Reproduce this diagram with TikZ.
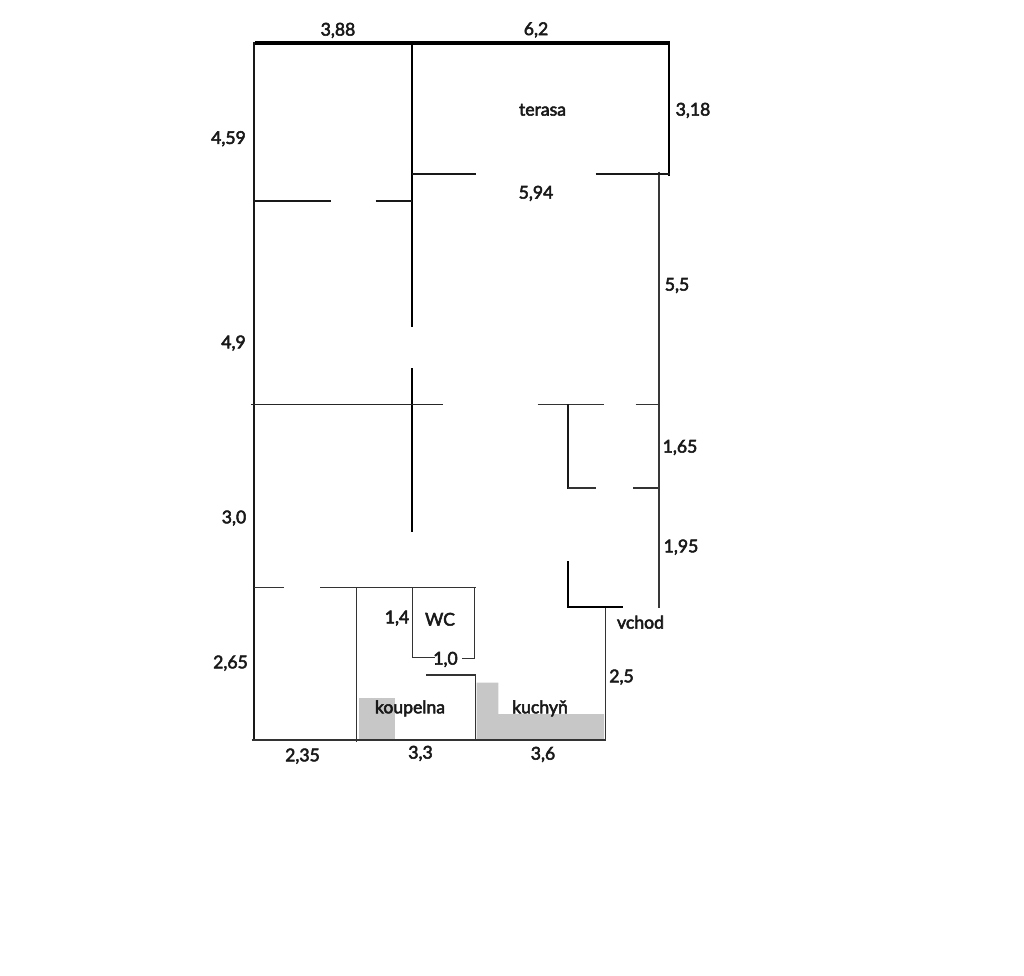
\documentclass[tikz,border=0pt]{standalone}
\usepackage{fontspec}
\setmainfont{Lato}[RawFeature={embolden=3}]
\tikzset{
	wall/.style={line width=1.7pt, color=black!90},
	thinwall/.style={line width=1.2pt, color=black!80},
	lbl/.style={anchor=base, inner sep=0pt, yshift=-0.6pt, font=\fontsize{17.6pt}{19pt}\selectfont, color=black!90},
	tile/.style={fill=black!22, draw=none}
}
\begin{document}
\begin{tikzpicture}[x=1pt, y=-1pt]
	\useasboundingbox (0, 0) rectangle (1024, 975);
	
	%%%%% TILES %%%%%
	\fill[tile] (358.7, 698.3) rectangle (395, 739);
	\fill[tile] (476.5, 682.7) -- (498.3, 682.7) -- (498.3, 714) -- (604, 714) -- (604, 739) -- (476.5, 739) -- cycle;
	
	%%%%% OUTER WALLS %%%%%
	\draw[line width=4pt] (255, 42.7) -- (669.5, 42.7);
	\draw[wall] (254.3, 42) -- (254.3, 741);
	\draw[line width=2pt] (669, 42) -- (669, 175.5);
	\draw[line width=1.7pt, color=black!78] (658.7, 171.7) -- (658.7, 607.7);
	\draw[thinwall] (251.7, 740) -- (605.5, 740);
	\draw[thinwall] (605.3, 607) -- (605.3, 741);
	
	%%%%% MIDDLE WALL %%%%%
	\draw[line width=1.9pt] (412, 42) -- (412, 326.7);
	\draw[line width=1.9pt] (412, 368) -- (412, 531.7);
	
	%%%%% TOP ROOMS %%%%%
	\draw[line width=2pt, color=black!90] (412, 174.2) -- (476, 174.2);
	\draw[line width=2pt, color=black!90] (595.7, 174.2) -- (670, 174.2);
	\draw[wall] (254, 200.7) -- (331, 200.7);
	\draw[wall] (375.7, 200.7) -- (412, 200.7);
	
	\draw[line width=1pt, color=black!85] (251, 404.3) -- (443, 404.3);
	\draw[thinwall] (537.7, 404.3) -- (603.7, 404.3);
	\draw[thinwall] (635.7, 404.3) -- (658.7, 404.3);
	
	%%%%% HALL %%%%%
	\draw[wall] (568, 404) -- (568, 489);
	\draw[thinwall] (568, 488) -- (596.3, 488);
	\draw[thinwall] (633, 488) -- (658, 488);
	\draw[line width=1.9pt] (568, 561.3) -- (568, 607) -- (622.7, 607);
	
	%%%%% BOTTOM ROOMS %%%%%
	\draw[thinwall] (254, 587.7) -- (284, 587.7);
	\draw[thinwall] (320, 587.3) -- (475.5, 587.3);
	\draw[thinwall] (356.7, 587) -- (356.7, 741.7);
	\draw[thinwall] (412.3, 587) -- (412.3, 657.7) -- (435, 657.7);
	\draw[thinwall] (474.6, 587) -- (474.6, 658.7) -- (462, 658.7);
	\draw[thinwall] (426, 675) -- (475.7, 675) -- (475.7, 740);
	
	%%%%% LABELS %%%%%
	\node[lbl] (topleft) at (338, 35) {3,88};
	\node[lbl] (topright) at (536, 34.5) {6,2};
	\node[lbl] (terasa) at (542.5, 115) {terasa};
	\node[lbl] (terasaside) at (693, 115) {3,18};
	\node[lbl] (leftone) at (228.5, 143.3) {4,59};
	\node[lbl] (terasawidth) at (536, 198) {5,94};
	\node[lbl] (rightone) at (677, 290) {5,5};
	\node[lbl] (lefttwo) at (233.5, 347.7) {4,9};
	\node[lbl] (righttwo) at (680, 452) {1,65};
	\node[lbl] (leftthree) at (234, 522.7) {3,0};
	\node[lbl] (rightthree) at (681, 551.7) {1,95};
	\node[lbl] (wcside) at (397, 622.7) {1,4};
	\node[lbl] (wc) at (440, 625) {WC};
	\node[lbl] (vchod) at (640.5, 628) {vchod};
	\node[lbl] (wcwidth) at (445.5, 664) {1,0};
	\node[lbl] (rightfour) at (621.5, 681.7) {2,5};
	\node[lbl] (leftfour) at (230.5, 667.7) {2,65};
	\node[lbl] (koupelna) at (410, 712.7) {koupelna};
	\node[lbl] (kuchyn) at (540, 712.7) {kuchyň};
	\node[lbl] (bottomone) at (302.5, 760.7) {2,35};
	\node[lbl] (bottomtwo) at (420.5, 758) {3,3};
	\node[lbl] (bottomthree) at (543, 759) {3,6};
\end{tikzpicture}
\end{document}
